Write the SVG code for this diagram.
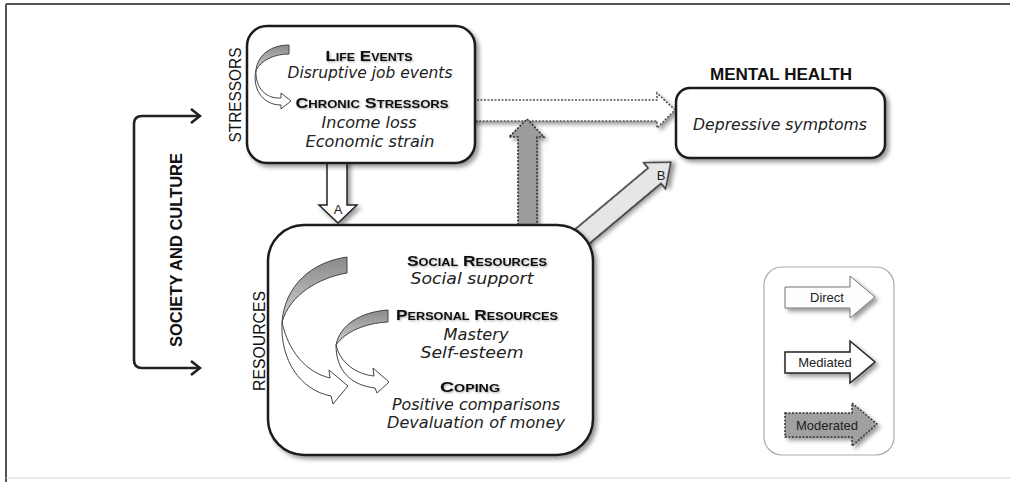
<svg xmlns="http://www.w3.org/2000/svg" width="1010" height="482" viewBox="0 0 1010 482">
<defs>
<style>
.box{fill:#fff;stroke:#1a1a1a;stroke-width:2.5}
.hd{font-family:"Liberation Sans",Arial,sans-serif;font-weight:bold;font-variant:small-caps;font-size:15px;fill:#111;text-anchor:middle}
.it{font-family:"DejaVu Sans",sans-serif;font-style:italic;font-size:15px;fill:#222;text-anchor:middle}
.vl{font-family:"Liberation Sans",Arial,sans-serif;font-size:16px;fill:#111;text-anchor:middle}
.lg{font-family:"Liberation Sans",Arial,sans-serif;font-size:13px;fill:#222;text-anchor:middle}
.lab{font-family:"Liberation Sans",Arial,sans-serif;font-size:13px;fill:#222;text-anchor:middle}
.cg{fill:url(#gg);stroke:#444;stroke-width:1}
.cw{fill:#fff;stroke:#444;stroke-width:1}
.dot{stroke-dasharray:2 1.5}
</style>
<filter id="sh" x="-20%" y="-20%" width="150%" height="150%"><feDropShadow dx="3" dy="3" stdDeviation="2" flood-color="#000" flood-opacity="0.4"/></filter>
<filter id="tsh" x="-10%" y="-30%" width="130%" height="180%"><feDropShadow dx="1" dy="1" stdDeviation="1" flood-color="#000" flood-opacity="0.35"/></filter>
<linearGradient id="gg" x1="0" y1="0" x2="0" y2="1"><stop offset="0" stop-color="#8a8a8a"/><stop offset="1" stop-color="#d0d0d0"/></linearGradient>
<marker id="chev" viewBox="0 0 12 16" refX="10" refY="8" markerWidth="12" markerHeight="16" markerUnits="userSpaceOnUse" orient="auto-start-reverse"><polyline points="1,1 10,8 1,15" fill="none" stroke="#222" stroke-width="2.6"/></marker>
</defs>
<rect width="1010" height="482" fill="#fff"/>
<g id="frame" fill="none">
<line x1="6" y1="4" x2="1010" y2="4" stroke="#555" stroke-width="2"/>
<line x1="6" y1="4" x2="6" y2="482" stroke="#555" stroke-width="2"/>
<line x1="6" y1="478" x2="1010" y2="478" stroke="#d8d8d8" stroke-width="1"/>
</g>
<g id="connectors">
<g id="society-culture">
<path d="M200 116 L142 116 Q134 116 134 124 L134 360 Q134 368 142 368 L200 368" fill="none" stroke="#222" stroke-width="2.6" marker-start="url(#chev)" marker-end="url(#chev)"/>
<text class="vl" font-weight="bold" transform="translate(182 250) rotate(-90)" textLength="194" lengthAdjust="spacingAndGlyphs">SOCIETY AND CULTURE</text>
</g>
<polygon id="stressors-to-health" class="dot" filter="url(#sh)" points="470,100 657,100 657,93 675,110 657,128 657,121 470,121" fill="#fff" stroke="#555" stroke-width="1.6"/>
<polygon id="moderation" class="dot" filter="url(#sh)" points="518,232 518,137 509,137 527,119 544,137 537,137 537,232" fill="#9c9c9c" stroke="#333" stroke-width="1.6"/>
<g id="arrow-a">
<polygon filter="url(#sh)" points="327,160 327,205 319,205 338,223 357,205 347,205 347,160" fill="#fff" stroke="#222" stroke-width="1.5"/>
<text class="lab" x="338" y="214">A</text>
</g>
<g id="arrow-b">
<polygon filter="url(#sh)" transform="translate(578 240) rotate(-40)" points="0,-10 100,-10 100,-17 121,0 100,17 100,10 0,10" fill="#e6e6e6" stroke="#222" stroke-width="1.5"/>
<text class="lab" x="661" y="180">B</text>
</g>
</g>
<g id="stressors">
<rect class="box" filter="url(#sh)" x="247" y="26" width="228" height="137" rx="20"/>
<text class="vl" transform="translate(241 95) rotate(-90)" textLength="95" lengthAdjust="spacingAndGlyphs">STRESSORS</text>
<path class="cg" d="M289 45 C272 45 258 54 256 70 C262 60 274 54 289 54 Z"/>
<path class="cw" d="M256 70 C255 88 266 99 281 98 L281 93 L291 101 L281 109 L281 105 C262 105 252 88 256 70 Z"/>
<text class="hd" filter="url(#tsh)" x="369" y="61" textLength="87" lengthAdjust="spacingAndGlyphs">Life Events</text>
<text class="it" x="370" y="78" textLength="165" lengthAdjust="spacingAndGlyphs">Disruptive job events</text>
<text class="hd" filter="url(#tsh)" x="372" y="108" textLength="153" lengthAdjust="spacingAndGlyphs">Chronic Stressors</text>
<text class="it" x="369" y="128" textLength="95" lengthAdjust="spacingAndGlyphs">Income loss</text>
<text class="it" x="370" y="147" textLength="129" lengthAdjust="spacingAndGlyphs">Economic strain</text>
</g>
<g id="mental-health">
<text class="vl" font-weight="bold" font-size="18" x="781" y="80" textLength="142" lengthAdjust="spacingAndGlyphs">MENTAL HEALTH</text>
<rect class="box" filter="url(#sh)" x="676" y="88" width="209" height="70" rx="14" fill="#f8f8f8"/>
<text class="it" x="780" y="130" textLength="174" lengthAdjust="spacingAndGlyphs">Depressive symptoms</text>
</g>
<g id="resources">
<rect class="box" filter="url(#sh)" x="268" y="225" width="325" height="230" rx="36"/>
<text class="vl" transform="translate(265 341) rotate(-90)" textLength="100" lengthAdjust="spacingAndGlyphs">RESOURCES</text>
<path class="cg" d="M347 257 C312 262 285 285 282 322 C290 295 318 278 347 273 Z"/>
<path class="cw" d="M282 322 C280 360 300 390 331 396 L333 404 L348 386 L329 370 L330 378 C305 372 288 350 282 322 Z"/>
<path class="cg" d="M388 310 C360 312 340 325 336 345 C345 332 365 323 388 322 Z"/>
<path class="cw" d="M336 345 C336 370 350 385 375 388 L377 393 L389 382 L373 368 L374 376 C355 374 340 362 336 345 Z"/>
<text class="hd" filter="url(#tsh)" x="477" y="266" textLength="140" lengthAdjust="spacingAndGlyphs">Social Resources</text>
<text class="it" x="472" y="284" textLength="123" lengthAdjust="spacingAndGlyphs">Social support</text>
<text class="hd" filter="url(#tsh)" x="477" y="320" textLength="162" lengthAdjust="spacingAndGlyphs">Personal Resources</text>
<text class="it" x="476" y="340" textLength="65" lengthAdjust="spacingAndGlyphs">Mastery</text>
<text class="it" x="472" y="358" textLength="103" lengthAdjust="spacingAndGlyphs">Self-esteem</text>
<text class="hd" filter="url(#tsh)" x="470" y="392" textLength="60" lengthAdjust="spacingAndGlyphs">Coping</text>
<text class="it" x="476" y="410" textLength="168" lengthAdjust="spacingAndGlyphs">Positive comparisons</text>
<text class="it" x="476" y="428" textLength="178" lengthAdjust="spacingAndGlyphs">Devaluation of money</text>
</g>
<g id="legend">
<rect x="764" y="267" width="130" height="188" rx="18" fill="#fff" stroke="#aaa" stroke-width="1.2"/>
<polygon filter="url(#sh)" points="785,287 850,287 850,276 875,297 850,318 850,308 785,308" fill="#fdfdfd" stroke="#777" stroke-width="1"/>
<text class="lg" x="827" y="302">Direct</text>
<polygon filter="url(#sh)" points="785,352 850,352 850,341 875,362 850,383 850,373 785,373" fill="#fff" stroke="#222" stroke-width="1.5"/>
<text class="lg" x="825" y="367">Mediated</text>
<polygon class="dot" filter="url(#sh)" points="785,413 852,413 852,403 877,424 852,446 852,437 785,437" fill="#a0a0a0" stroke="#333" stroke-width="1.5"/>
<text class="lg" x="827" y="430">Moderated</text>
</g>
</svg>
